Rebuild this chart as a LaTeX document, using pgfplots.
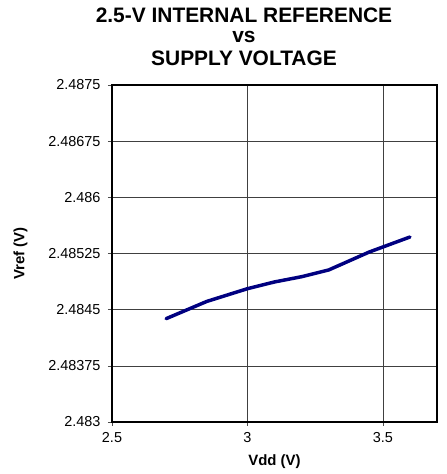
\documentclass[border=0pt]{standalone}
\usepackage{pgfplots}
\pgfplotsset{compat=1.18}
\usepackage{fontspec}
\setmainfont{Liberation Sans}
\begin{document}
\begin{tikzpicture}[x=1bp,y=1bp]
\begin{axis}[
  at={(112bp,52bp)}, anchor=south west,
  scale only axis, width=325bp, height=337bp,
  xmin=2.5, xmax=3.7, ymin=2.483, ymax=2.4875,
  xtick={2.5,3,3.5}, xticklabels={2.5,3,3.5},
  ytick={2.483,2.48375,2.4845,2.48525,2.486,2.48675,2.4875},
  yticklabels={2.483,2.48375,2.4845,2.48525,2.486,2.48675,2.4875},
  tick label style={font=\fontsize{14.5}{16}\selectfont},
  xmajorgrids, ymajorgrids,
  major grid style={black!75, line width=0.6pt},
  axis line style={black, line width=1.2pt},
  tick align=outside, major tick length=4bp,
  tick style={black!70, line width=0.6pt},
  xtick pos=bottom, ytick pos=left,
  yticklabel style={xshift=-4bp},
  xticklabel style={yshift=-3bp},
  xlabel={Vdd (V)}, ylabel={Vref (V)},
  label style={font=\fontsize{15}{17}\selectfont\bfseries},
  xlabel style={at={(axis description cs:0.5,0)}, anchor=north, yshift=-29bp},
  ylabel style={at={(axis description cs:0,0.5)}, anchor=south, rotate=0, yshift=81bp},
  clip=false,
]
\addplot[color={rgb,255:red,0;green,0;blue,128}, line width=3.5pt, line cap=round, line join=round] coordinates {
(2.7,2.48438) (2.85,2.48461) (3.0,2.48478) (3.1,2.48487) (3.2,2.48494) (3.3,2.48503) (3.45,2.48527) (3.6,2.48547)
};
\end{axis}
\node[font=\fontsize{21}{22}\selectfont\bfseries, anchor=base] at (244bp,451bp) {2.5-V INTERNAL REFERENCE};
\node[font=\fontsize{21}{22}\selectfont\bfseries, anchor=base] at (244bp,431bp) {vs};
\node[font=\fontsize{21}{22}\selectfont\bfseries, anchor=base] at (244bp,408bp) {SUPPLY VOLTAGE};
\pgfresetboundingbox
\path[use as bounding box] (0,0) rectangle (447bp,474bp);
\end{tikzpicture}
\end{document}
